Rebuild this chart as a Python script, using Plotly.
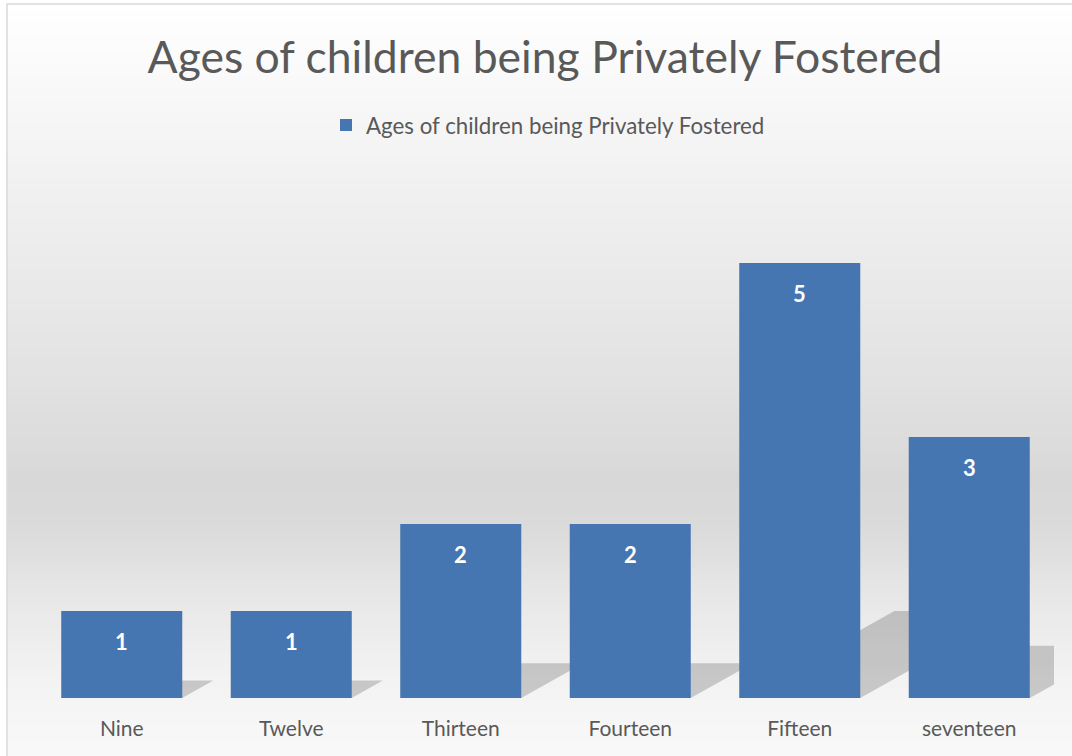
import plotly.graph_objects as go
import numpy as np

# ---- data ----
categories = ["Nine", "Twelve", "Thirteen", "Fourteen", "Fifteen", "seventeen"]
values = [1, 1, 2, 2, 5, 3]
series_name = "Ages of children being Privately Fostered"
title_text = "Ages of children being Privately Fostered"

# ---- layout geometry (pixels) ----
W, H = 1072, 756
L, R, T, B = 37, 1054, 176, 698
pw, ph = R - L, B - T

def px_x(p):
    return (p - L) / pw

def px_y(p):
    return (B - p) / ph

FONT = "Lato"
GREY = "#595959"

shapes = []
# background gradient bands (chart area box)
stops_y = [4, 120, 250, 380, 480, 525, 600, 680, 760]
stops_c = [255, 246, 236, 226, 216, 218, 232, 243, 249]
edges = np.arange(4, 762, 6)
for y0, y1 in zip(edges[:-1], edges[1:]):
    c = int(round(np.interp((y0 + y1) / 2, stops_y, stops_c)))
    shapes.append(dict(type="rect", xref="paper", yref="paper",
                       x0=px_x(7), x1=px_x(1080), y0=px_y(y1 + 0.5), y1=px_y(y0),
                       fillcolor=f"rgb({c},{c},{c})", line=dict(width=0), layer="below"))
# border
shapes.append(dict(type="rect", xref="paper", yref="paper",
                   x0=px_x(7), x1=px_x(1090), y0=px_y(770), y1=px_y(4),
                   fillcolor="rgba(0,0,0,0)", line=dict(color="#d9d9d9", width=1.5), layer="below"))
# bar shadows
hw = 0.357
for i, v in enumerate(values):
    sh = 0.183 * v
    hgt = 0.2 * v
    path = (f"M {i-hw},0 L {i-hw+sh},{hgt} L {i+hw+sh},{hgt} L {i+hw},0 Z")
    shapes.append(dict(type="path", xref="x", yref="y", path=path,
                       fillcolor="rgba(0,0,0,0.18)", line=dict(width=0), layer="below"))

fig = go.Figure()
fig.add_trace(go.Bar(
    x=list(range(len(categories))), y=values, name=series_name,
    marker=dict(color="#4676b2", line=dict(width=0)),
    showlegend=True,
))

annotations = []
for i, v in enumerate(values):
    annotations.append(dict(x=i, y=v, xref="x", yref="y", text=f"<b>{v}</b>",
                            showarrow=False, yanchor="middle", yshift=-30,
                            font=dict(family=FONT, size=22, color="white")))

fig.update_layout(
    width=W, height=H,
    margin=dict(l=L, r=W - R, t=T, b=H - B, pad=0),
    paper_bgcolor="white", plot_bgcolor="rgba(0,0,0,0)",
    title=dict(text=title_text, x=545 / W, xanchor="center", y=1 - 57 / H,
               yanchor="middle", yref="container",
               font=dict(family=FONT, size=44.5, color=GREY)),
    legend=dict(orientation="h", x=px_x(548), xanchor="center", y=1 - 125 / H,
                yanchor="middle", yref="container",
                font=dict(family=FONT, size=22.3, color=GREY),
                bgcolor="rgba(0,0,0,0)", itemsizing="constant"),
    bargap=0.286,
    xaxis=dict(range=[-0.5, len(categories) - 0.5], tickmode="array",
               tickvals=list(range(len(categories))), ticktext=categories,
               showgrid=False, zeroline=False, showline=False, ticks="",
               ticklabelstandoff=16,
               tickfont=dict(family=FONT, size=21, color=GREY)),
    yaxis=dict(range=[0, 6], visible=False, showgrid=False, zeroline=False),
    shapes=shapes,
    annotations=annotations,
    showlegend=True,
)

fig.write_html("out.html")
